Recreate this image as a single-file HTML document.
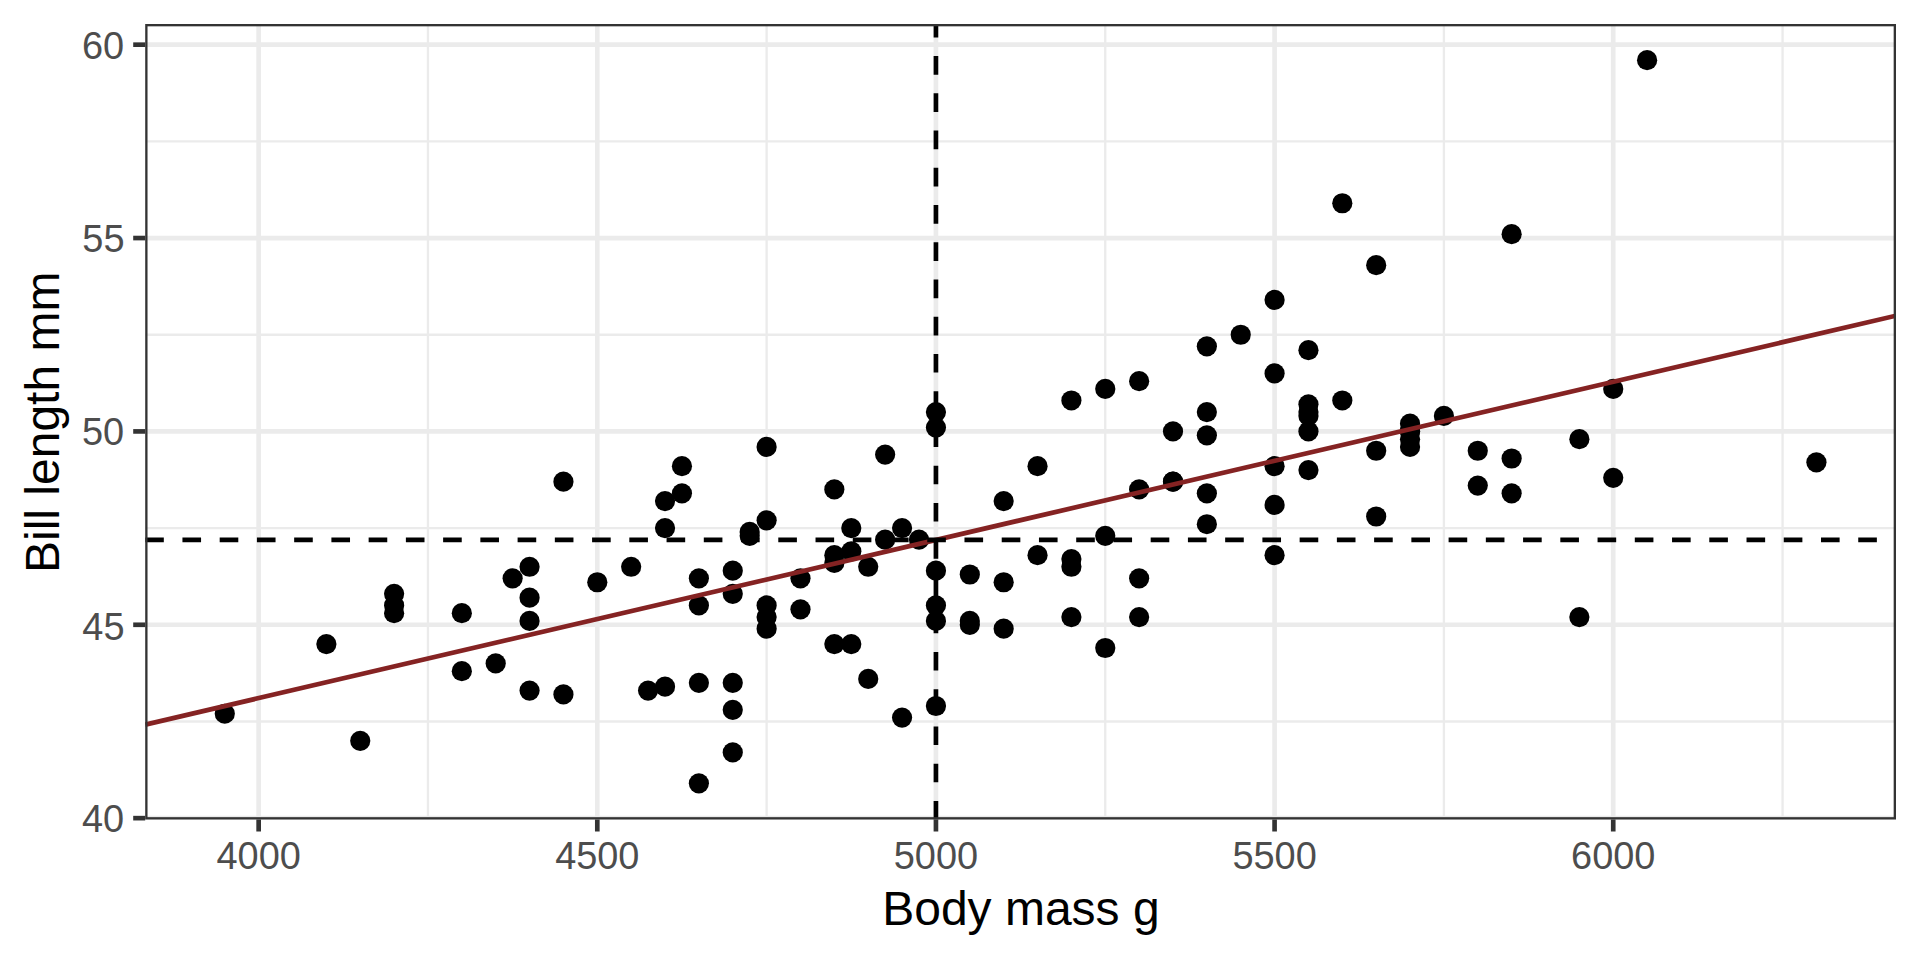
<!DOCTYPE html>
<html lang="en"><head><meta charset="utf-8"><title>Bill length vs body mass</title>
<style>html,body{margin:0;padding:0;background:#fff;overflow:hidden}svg{display:block}text{font-family:"Liberation Sans",Arial,Helvetica,sans-serif}</style></head><body>
<svg width="1920" height="960" viewBox="0 0 1920 960">
<rect width="1920" height="960" fill="#fff"/>
<clipPath id="pc"><rect x="145.2" y="24.0" width="1750.8" height="795.5"/></clipPath>
<g clip-path="url(#pc)">
<g stroke="#EBEBEB" stroke-width="2.33">
<line x1="427.97" x2="427.97" y1="24.0" y2="819.5"/>
<line x1="766.62" x2="766.62" y1="24.0" y2="819.5"/>
<line x1="1105.26" x2="1105.26" y1="24.0" y2="819.5"/>
<line x1="1443.91" x2="1443.91" y1="24.0" y2="819.5"/>
<line x1="1782.55" x2="1782.55" y1="24.0" y2="819.5"/>
<line y1="721.46" y2="721.46" x1="145.2" x2="1896.0"/>
<line y1="528.1" y2="528.1" x1="145.2" x2="1896.0"/>
<line y1="334.74" y2="334.74" x1="145.2" x2="1896.0"/>
<line y1="141.37" y2="141.37" x1="145.2" x2="1896.0"/>
</g>
<g stroke="#EBEBEB" stroke-width="4.66">
<line x1="258.65" x2="258.65" y1="24.0" y2="819.5"/>
<line x1="597.29" x2="597.29" y1="24.0" y2="819.5"/>
<line x1="935.94" x2="935.94" y1="24.0" y2="819.5"/>
<line x1="1274.58" x2="1274.58" y1="24.0" y2="819.5"/>
<line x1="1613.23" x2="1613.23" y1="24.0" y2="819.5"/>
<line y1="818.15" y2="818.15" x1="145.2" x2="1896.0"/>
<line y1="624.78" y2="624.78" x1="145.2" x2="1896.0"/>
<line y1="431.42" y2="431.42" x1="145.2" x2="1896.0"/>
<line y1="238.05" y2="238.05" x1="145.2" x2="1896.0"/>
<line y1="44.69" y2="44.69" x1="145.2" x2="1896.0"/>
</g>
<g fill="#000">
<circle cx="597.29" cy="582.24" r="10.1"/>
<circle cx="1410.04" cy="431.42" r="10.1"/>
<circle cx="563.43" cy="481.69" r="10.1"/>
<circle cx="1410.04" cy="431.42" r="10.1"/>
<circle cx="1206.86" cy="524.23" r="10.1"/>
<circle cx="631.16" cy="566.77" r="10.1"/>
<circle cx="800.48" cy="609.31" r="10.1"/>
<circle cx="1071.4" cy="559.04" r="10.1"/>
<circle cx="529.56" cy="690.53" r="10.1"/>
<circle cx="1037.53" cy="555.17" r="10.1"/>
<circle cx="698.89" cy="783.34" r="10.1"/>
<circle cx="1308.45" cy="470.09" r="10.1"/>
<circle cx="698.89" cy="605.45" r="10.1"/>
<circle cx="1511.64" cy="493.29" r="10.1"/>
<circle cx="394.1" cy="593.84" r="10.1"/>
<circle cx="1511.64" cy="458.49" r="10.1"/>
<circle cx="360.24" cy="740.8" r="10.1"/>
<circle cx="1816.42" cy="462.36" r="10.1"/>
<circle cx="800.48" cy="578.37" r="10.1"/>
<circle cx="1172.99" cy="481.69" r="10.1"/>
<circle cx="1410.04" cy="423.68" r="10.1"/>
<circle cx="935.94" cy="620.92" r="10.1"/>
<circle cx="529.56" cy="566.77" r="10.1"/>
<circle cx="969.8" cy="574.51" r="10.1"/>
<circle cx="935.94" cy="706" r="10.1"/>
<circle cx="1003.67" cy="582.24" r="10.1"/>
<circle cx="326.38" cy="644.12" r="10.1"/>
<circle cx="1376.18" cy="516.5" r="10.1"/>
<circle cx="665.02" cy="501.03" r="10.1"/>
<circle cx="1308.45" cy="431.42" r="10.1"/>
<circle cx="1105.26" cy="535.83" r="10.1"/>
<circle cx="732.75" cy="709.86" r="10.1"/>
<circle cx="969.8" cy="620.92" r="10.1"/>
<circle cx="1647.1" cy="60.16" r="10.1"/>
<circle cx="1037.53" cy="466.22" r="10.1"/>
<circle cx="1206.86" cy="493.29" r="10.1"/>
<circle cx="902.07" cy="717.6" r="10.1"/>
<circle cx="1105.26" cy="647.99" r="10.1"/>
<circle cx="495.7" cy="663.46" r="10.1"/>
<circle cx="1172.99" cy="481.69" r="10.1"/>
<circle cx="224.78" cy="713.73" r="10.1"/>
<circle cx="1410.04" cy="446.89" r="10.1"/>
<circle cx="461.83" cy="613.18" r="10.1"/>
<circle cx="766.62" cy="446.89" r="10.1"/>
<circle cx="1308.45" cy="412.08" r="10.1"/>
<circle cx="868.21" cy="678.92" r="10.1"/>
<circle cx="394.1" cy="605.45" r="10.1"/>
<circle cx="1206.86" cy="412.08" r="10.1"/>
<circle cx="1003.67" cy="628.65" r="10.1"/>
<circle cx="1139.13" cy="617.05" r="10.1"/>
<circle cx="834.34" cy="562.91" r="10.1"/>
<circle cx="1139.13" cy="489.43" r="10.1"/>
<circle cx="529.56" cy="620.92" r="10.1"/>
<circle cx="935.94" cy="427.55" r="10.1"/>
<circle cx="868.21" cy="566.77" r="10.1"/>
<circle cx="969.8" cy="624.78" r="10.1"/>
<circle cx="461.83" cy="671.19" r="10.1"/>
<circle cx="935.94" cy="605.45" r="10.1"/>
<circle cx="563.43" cy="694.39" r="10.1"/>
<circle cx="1308.45" cy="415.95" r="10.1"/>
<circle cx="394.1" cy="613.18" r="10.1"/>
<circle cx="1139.13" cy="578.37" r="10.1"/>
<circle cx="529.56" cy="597.71" r="10.1"/>
<circle cx="1376.18" cy="265.13" r="10.1"/>
<circle cx="732.75" cy="593.84" r="10.1"/>
<circle cx="1410.04" cy="439.15" r="10.1"/>
<circle cx="698.89" cy="578.37" r="10.1"/>
<circle cx="1477.77" cy="450.75" r="10.1"/>
<circle cx="732.75" cy="682.79" r="10.1"/>
<circle cx="1308.45" cy="404.35" r="10.1"/>
<circle cx="766.62" cy="520.37" r="10.1"/>
<circle cx="935.94" cy="570.64" r="10.1"/>
<circle cx="1003.67" cy="501.03" r="10.1"/>
<circle cx="1071.4" cy="566.77" r="10.1"/>
<circle cx="732.75" cy="570.64" r="10.1"/>
<circle cx="1477.77" cy="485.56" r="10.1"/>
<circle cx="665.02" cy="528.1" r="10.1"/>
<circle cx="1613.23" cy="388.88" r="10.1"/>
<circle cx="766.62" cy="617.05" r="10.1"/>
<circle cx="1579.37" cy="617.05" r="10.1"/>
<circle cx="681.95" cy="466.22" r="10.1"/>
<circle cx="1240.72" cy="334.74" r="10.1"/>
<circle cx="749.68" cy="531.97" r="10.1"/>
<circle cx="1172.99" cy="431.42" r="10.1"/>
<circle cx="766.62" cy="628.65" r="10.1"/>
<circle cx="1342.31" cy="400.48" r="10.1"/>
<circle cx="665.02" cy="686.66" r="10.1"/>
<circle cx="1139.13" cy="381.14" r="10.1"/>
<circle cx="851.28" cy="528.1" r="10.1"/>
<circle cx="1308.45" cy="350.21" r="10.1"/>
<circle cx="902.07" cy="528.1" r="10.1"/>
<circle cx="1206.86" cy="346.34" r="10.1"/>
<circle cx="766.62" cy="605.45" r="10.1"/>
<circle cx="1376.18" cy="450.75" r="10.1"/>
<circle cx="834.34" cy="644.12" r="10.1"/>
<circle cx="1071.4" cy="400.48" r="10.1"/>
<circle cx="885.14" cy="454.62" r="10.1"/>
<circle cx="851.28" cy="551.3" r="10.1"/>
<circle cx="681.95" cy="493.29" r="10.1"/>
<circle cx="1105.26" cy="388.88" r="10.1"/>
<circle cx="834.34" cy="489.43" r="10.1"/>
<circle cx="1342.31" cy="203.25" r="10.1"/>
<circle cx="919.01" cy="539.7" r="10.1"/>
<circle cx="1274.58" cy="466.22" r="10.1"/>
<circle cx="749.68" cy="535.83" r="10.1"/>
<circle cx="1274.58" cy="555.17" r="10.1"/>
<circle cx="732.75" cy="752.4" r="10.1"/>
<circle cx="1274.58" cy="299.93" r="10.1"/>
<circle cx="648.09" cy="690.53" r="10.1"/>
<circle cx="1274.58" cy="504.9" r="10.1"/>
<circle cx="935.94" cy="412.08" r="10.1"/>
<circle cx="1579.37" cy="439.15" r="10.1"/>
<circle cx="698.89" cy="682.79" r="10.1"/>
<circle cx="1274.58" cy="373.41" r="10.1"/>
<circle cx="512.63" cy="578.37" r="10.1"/>
<circle cx="1511.64" cy="234.19" r="10.1"/>
<circle cx="851.28" cy="644.12" r="10.1"/>
<circle cx="1613.23" cy="477.83" r="10.1"/>
<circle cx="885.14" cy="539.7" r="10.1"/>
<circle cx="834.34" cy="555.17" r="10.1"/>
<circle cx="1443.91" cy="415.95" r="10.1"/>
<circle cx="1071.4" cy="617.05" r="10.1"/>
<circle cx="1206.86" cy="435.29" r="10.1"/>
</g>
<line x1="145.2" y1="724.64" x2="1896" y2="315.68" stroke="#852323" stroke-width="4.66"/>
<g stroke="#000" stroke-width="4.66" stroke-dasharray="18.62 18.62">
<line x1="935.94" x2="935.94" y1="819.5" y2="24.0"/>
<line x1="145.2" x2="1896.0" y1="539.94" y2="539.94"/>
</g>
<rect x="145.2" y="24.0" width="1750.8" height="795.5" fill="none" stroke="#333" stroke-width="4.66"/>
</g>
<g stroke="#333" stroke-width="4.66">
<line x1="258.65" x2="258.65" y1="819.5" y2="831.5"/>
<line x1="597.29" x2="597.29" y1="819.5" y2="831.5"/>
<line x1="935.94" x2="935.94" y1="819.5" y2="831.5"/>
<line x1="1274.58" x2="1274.58" y1="819.5" y2="831.5"/>
<line x1="1613.23" x2="1613.23" y1="819.5" y2="831.5"/>
<line y1="818.15" y2="818.15" x1="133.2" x2="145.2"/>
<line y1="624.78" y2="624.78" x1="133.2" x2="145.2"/>
<line y1="431.42" y2="431.42" x1="133.2" x2="145.2"/>
<line y1="238.05" y2="238.05" x1="133.2" x2="145.2"/>
<line y1="44.69" y2="44.69" x1="133.2" x2="145.2"/>
</g>
<g fill="#4D4D4D" font-size="38.3">
<text transform="translate(258.65,868.6) scale(0.99,1)" text-anchor="middle">4000</text>
<text transform="translate(597.29,868.6) scale(0.99,1)" text-anchor="middle">4500</text>
<text transform="translate(935.94,868.6) scale(0.99,1)" text-anchor="middle">5000</text>
<text transform="translate(1274.58,868.6) scale(0.99,1)" text-anchor="middle">5500</text>
<text transform="translate(1613.23,868.6) scale(0.99,1)" text-anchor="middle">6000</text>
<text transform="translate(124.1,831.75) scale(0.99,1)" text-anchor="end">40</text>
<text transform="translate(124.5,639.5) scale(0.99,1)" text-anchor="end">45</text>
<text transform="translate(124.1,445.0) scale(0.99,1)" text-anchor="end">50</text>
<text transform="translate(124.5,251.65) scale(0.99,1)" text-anchor="end">55</text>
<text transform="translate(124.1,59.45) scale(0.99,1)" text-anchor="end">60</text>
</g>
<text x="1020.9" y="925" font-size="48" text-anchor="middle" fill="#000">Body mass g</text>
<text transform="translate(59,422.25) rotate(-90)" font-size="48" text-anchor="middle" fill="#000">Bill length mm</text>
</svg></body></html>
